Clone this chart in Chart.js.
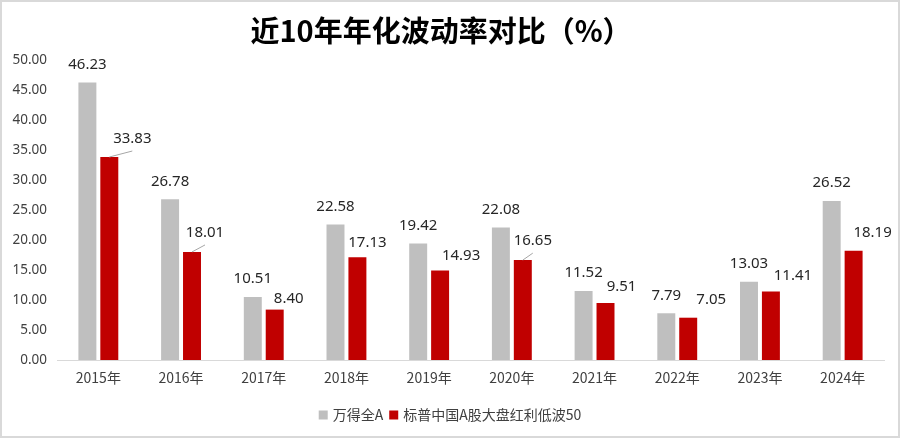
<!DOCTYPE html>
<html>
<head>
<meta charset="utf-8">
<title>近10年年化波动率对比</title>
<script src="https://cdn.jsdelivr.net/npm/chart.js@4.4.1/dist/chart.umd.min.js"></script>
<style>
    body { margin: 0; background: #fff; }
    canvas { display: block; }
</style>
</head>
<body>
<canvas id="vol-chart" width="900" height="438"></canvas>
<script>
// Chart data
const years = ['2015年', '2016年', '2017年', '2018年', '2019年', '2020年', '2021年', '2022年', '2023年', '2024年'];
const windAllA = [46.23, 26.78, 10.51, 22.58, 19.42, 22.08, 11.52, 7.79, 13.03, 26.52];
const spDividendLowVol = [33.83, 18.01, 8.40, 17.13, 14.93, 16.65, 9.51, 7.05, 11.41, 18.19];
const seriesNames = ['万得全A', '标普中国A股大盘红利低波50'];
const titleText = '近10年年化波动率对比（%）';

// Label placement for the red series (shifted right, a few with leader lines)
const redLabelDx = [23, 13, 14, 10, 21, 10, 16, 23, 22, 19];
const redLabelDy = [18, 19, 11, 14, 15, 19, 16, 18, 16, 18];
const redLeader = [true, true, false, false, false, true, false, false, false, false];

const FONT = '"Noto Sans", "Noto Sans CJK SC", sans-serif';
const CJK_FONT = '"Noto Sans CJK SC", "Noto Sans", sans-serif';

// Draws title, value labels, legend and frame
const decorations = {
    id: 'decorations',
    afterDatasetsDraw(chart) {
        const ctx = chart.ctx;
        ctx.save();

        // value labels
        ctx.font = '15px ' + FONT;
        ctx.fillStyle = '#262626';
        ctx.textAlign = 'center';
        ctx.textBaseline = 'middle';
        chart.getDatasetMeta(0).data.forEach((bar, i) => {
            ctx.fillText(windAllA[i].toFixed(2), bar.x, bar.y - 18);
        });
        chart.getDatasetMeta(1).data.forEach((bar, i) => {
            const lx = bar.x + redLabelDx[i];
            const ly = bar.y - redLabelDy[i];
            if (redLeader[i]) {
                ctx.strokeStyle = '#A6A6A6';
                ctx.lineWidth = 1;
                ctx.beginPath();
                ctx.moveTo(bar.x, bar.y);
                ctx.lineTo(lx, ly + 12);
                ctx.stroke();
            }
            ctx.fillText(spDividendLowVol[i].toFixed(2), lx, ly);
        });

        // title
        ctx.font = 'bold 29px ' + CJK_FONT;
        ctx.fillStyle = '#000';
        ctx.fillText(titleText, 441, 31);

        // legend
        ctx.font = '14px ' + CJK_FONT;
        ctx.textAlign = 'left';
        const colors = chart.data.datasets.map(d => d.backgroundColor);
        const box = 9, gap = 5, between = 6;
        const widths = seriesNames.map(n => ctx.measureText(n).width);
        const total = widths.reduce((a, w) => a + box + gap + w, 0) + between;
        let x = 450 - total / 2;
        const y = 415;
        seriesNames.forEach((name, i) => {
            ctx.fillStyle = colors[i];
            ctx.fillRect(x, y - box / 2, box, box);
            x += box + gap;
            ctx.fillStyle = '#404040';
            ctx.fillText(name, x, y);
            x += widths[i] + between;
        });

        // frame
        ctx.strokeStyle = '#D9D9D9';
        ctx.lineWidth = 2;
        ctx.strokeRect(1, 1, 898, 436);
        ctx.restore();
    }
};

const volChart = new Chart(document.getElementById('vol-chart'), {
    type: 'bar',
    data: {
        labels: years,
        datasets: [{
            label: seriesNames[0],
            data: windAllA,
            backgroundColor: '#BFBFBF'
        }, {
            label: seriesNames[1],
            data: spDividendLowVol,
            backgroundColor: '#C00000'
        }]
    },
    options: {
        responsive: false,
        animation: false,
        barPercentage: 0.82,
        categoryPercentage: 0.53,
        layout: { padding: { top: 60, right: 16, bottom: 0, left: 0 } },
        plugins: {
            legend: { display: false },
            title: { display: false },
            tooltip: { enabled: false }
        },
        scales: {
            x: {
                grid: { display: false, drawTicks: false },
                border: { color: '#D9D9D9', width: 1 },
                ticks: { color: '#404040', font: { family: CJK_FONT, size: 14 }, padding: 9 },
                afterFit: scale => { scale.height = 78; }
            },
            y: {
                min: 0,
                max: 50,
                grid: { display: false, drawTicks: false },
                border: { display: false },
                ticks: {
                    stepSize: 5,
                    color: '#404040',
                    font: { family: FONT, size: 13.5 },
                    padding: 10,
                    callback: v => v.toFixed(2)
                },
                afterFit: scale => { scale.width = 57; }
            }
        }
    },
    plugins: [decorations]
});
</script>
</body>
</html>
